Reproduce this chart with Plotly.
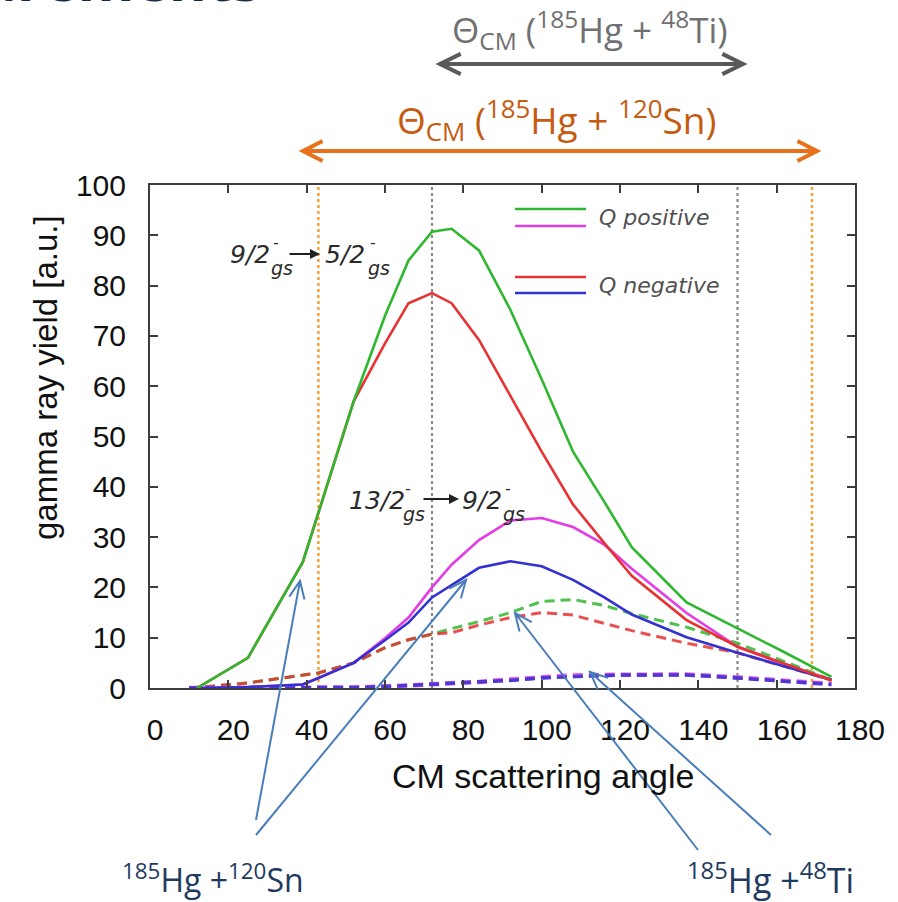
import math
import plotly.graph_objects as go

# CM scattering angle grid (degrees)
angle = [10, 12, 25, 39, 43, 52, 60, 66, 72, 77, 84, 92, 100, 108, 116, 123, 137, 150, 161, 174]

# 185Hg + 120Sn, solid lines
sn_pos_52 = [None, 0, 6, 25, 35, 57, 74, 85, 90.7, 91.3, 87, 75.2, 61.4, 47, 37, 28, 17, 11.9, 7.5, 2.2]
sn_neg_52 = [None, 0, 6, 25, 35, 57, 68.5, 76.5, 78.5, 76.5, 69.2, 58, 47, 36.5, 28.8, 22.3, 13.5, 8.2, 5.1, 1.5]
sn_pos_92 = [0, 0, 0.2, 0.7, 2, 5, 9.9, 14, 20, 24.5, 29.4, 33.3, 33.8, 32, 28.5, 23.7, 14.9, 8.2, 5, 1.6]
sn_neg_92 = [0, 0, 0.2, 0.7, 2, 5, 9.5, 13, 18, 20.5, 23.9, 25.2, 24.2, 21.5, 18, 14.6, 10.1, 7, 4.5, 1.6]

# 185Hg + 48Ti, dashed lines
ti_pos_52 = [0, 0.1, 1, 2.5, 3, 5, 8, 9.6, 10.7, 11.8, 13.2, 15, 17.2, 17.6, 16.4, 14.8, 12.1, 8.9, 5.6, 1.6]
ti_neg_52 = [0, 0.1, 1, 2.5, 3, 5, 8, 9.6, 10.7, 11, 12.5, 14, 15, 14.5, 12.8, 11.4, 8.9, 7, 4.5, 1.6]
ti_pos_92 = [0, 0, 0, 0, 0.05, 0.1, 0.3, 0.5, 0.8, 1, 1.2, 1.7, 2.2, 2.5, 2.6, 2.7, 2.7, 2.1, 1.5, 0.8]
ti_neg_92 = [0, 0, 0, 0, 0.05, 0.1, 0.3, 0.5, 0.7, 0.9, 1.1, 1.5, 2.0, 2.3, 2.5, 2.6, 2.6, 2.0, 1.4, 0.7]

# angular coverage limits
sn_limits = [43, 169]
ti_limits = [72, 150]

x_ticks = [0, 20, 40, 60, 80, 100, 120, 140, 160, 180]
y_ticks = [0, 10, 20, 30, 40, 50, 60, 70, 80, 90, 100]

GREEN = "#2fb82f"
RED = "#e83232"
MAGENTA = "#e43ce4"
BLUE = "#3232d2"
ORANGE_DOT = "#f0a436"
GRAY_DOT = "#8a8a8a"
POINTER = "#4a7ebb"
NAVY = "#1f3a5f"

W, H = 898, 902
ML, MR, MT, MB = 150, 43, 185, 214
PW, PH = W - ML - MR, H - MT - MB


def px(x):
    return (x - ML) / PW


def py(y):
    return (H - MB - y) / PH


fig = go.Figure()

dashed = [
    (ti_pos_52, GREEN, 3),
    (ti_neg_52, RED, 3),
    (ti_pos_92, MAGENTA, 4.5),
    (ti_neg_92, BLUE, 3.5),
]
for ys, col, w in dashed:
    fig.add_trace(go.Scatter(x=angle, y=ys, mode="lines",
                             line=dict(color=col, width=w, dash="10px,6px"),
                             opacity=0.85, showlegend=False, hoverinfo="skip"))

solid = [
    (sn_pos_92, MAGENTA),
    (sn_neg_92, BLUE),
    (sn_neg_52, RED),
    (sn_pos_52, GREEN),
]
for ys, col in solid:
    fig.add_trace(go.Scatter(x=angle, y=ys, mode="lines",
                             line=dict(color=col, width=2.6),
                             showlegend=False, hoverinfo="skip"))

shapes = []
for xv in sn_limits:
    shapes.append(dict(type="line", xref="x", yref="y", x0=xv, x1=xv, y0=0, y1=100,
                       line=dict(color=ORANGE_DOT, width=2.5, dash="dot"), layer="below"))
for xv in ti_limits:
    shapes.append(dict(type="line", xref="x", yref="y", x0=xv, x1=xv, y0=0, y1=100,
                       line=dict(color=GRAY_DOT, width=2.2, dash="dot"), layer="below"))


def arrow(x0, y0, x1, y1, color, width, head=18, ang=28, both=False):
    """Line from (x0,y0) to (x1,y1) in page pixels with open V head(s)."""
    out = [dict(type="line", xref="paper", yref="paper",
                x0=px(x0), y0=py(y0), x1=px(x1), y1=py(y1),
                line=dict(color=color, width=width))]
    ends = [(x0, y0, x1, y1)]
    if both:
        ends.append((x1, y1, x0, y0))
    for ax, ay, tx, ty in ends:
        d = math.hypot(tx - ax, ty - ay)
        ux, uy = (ax - tx) / d, (ay - ty) / d
        pts = []
        for s in (1, -1):
            a = math.radians(ang * s)
            vx = ux * math.cos(a) - uy * math.sin(a)
            vy = ux * math.sin(a) + uy * math.cos(a)
            pts.append((tx + vx * head, ty + vy * head))
        path = "M {:.5f},{:.5f} L {:.5f},{:.5f} L {:.5f},{:.5f}".format(
            px(pts[0][0]), py(pts[0][1]), px(tx), py(ty), px(pts[1][0]), py(pts[1][1]))
        out.append(dict(type="path", xref="paper", yref="paper", path=path,
                        line=dict(color=color, width=width)))
    return out


# angular range arrows above the frame
shapes += arrow(440, 64, 743, 64, "#5a5a5a", 4, head=23, ang=26, both=True)
shapes += arrow(303, 151, 817, 151, "#e8701a", 4, head=22, ang=27, both=True)

# pointers from the reaction labels to the curves
shapes += arrow(256, 820, 300, 581, POINTER, 2, head=19, ang=24)
shapes += arrow(256, 835, 466, 580, POINTER, 2, head=19, ang=24)
shapes += arrow(698, 850, 515, 613, POINTER, 2, head=19, ang=24)
shapes += arrow(771, 835, 590, 672, POINTER, 2, head=19, ang=24)

# in-frame key
key = [(209, GREEN), (226, MAGENTA), (277, RED), (293, BLUE)]
for yk, col in key:
    shapes.append(dict(type="line", xref="paper", yref="paper",
                       x0=px(515), x1=px(586), y0=py(yk), y1=py(yk),
                       line=dict(color=col, width=2.6)))

NARROW = "Liberation Sans Narrow, Open Sans, sans-serif"
ITAL = "DejaVu Sans, sans-serif"
HELV = "Liberation Sans, Arial, sans-serif"


def note(x, y, text, size, color, family, xanchor="center", yanchor="middle",
         style="normal", angle=0, weight="normal"):
    return dict(x=px(x), y=py(y), xref="paper", yref="paper", text=text,
                showarrow=False, xanchor=xanchor, yanchor=yanchor, textangle=angle,
                font=dict(size=size, color=color, family=family, style=style,
                          weight=weight))


annotations = [
    note(263, 20, "Measurements", 58, "#132a4a", "Open Sans, sans-serif",
         xanchor="right", yanchor="bottom", weight="bold"),
    note(590, 29, "Θ<sub>CM</sub> (<sup>185</sup>Hg + <sup>48</sup>Ti)", 35,
         "#707070", NARROW),
    note(556, 119, "Θ<sub>CM</sub> (<sup>185</sup>Hg + <sup>120</sup>Sn)", 37,
         "#c55a11", NARROW),
    note(597, 217, "Q positive", 22, "#505050", ITAL, xanchor="left", style="italic"),
    note(597, 285, "Q negative", 22, "#505050", ITAL, xanchor="left", style="italic"),
    note(543, 776, "CM scattering angle", 34, "#111111", HELV),
    note(45, 378, "gamma ray yield [a.u.]", 33, "#111111", HELV, angle=-90),
    note(213, 878, "<sup>185</sup>Hg +<sup>120</sup>Sn", 32, NAVY, NARROW),
    note(770, 878, "<sup>185</sup>Hg +<sup>48</sup>Ti", 34, NAVY, NARROW),
]

# transition labels: (left x of spin, centre y, spin text, x of stacked sign/subscript)
transitions = [
    (228, 254, "9/2", 268),
    (323, 254, "5/2", 365),
    (347, 500, "13/2", 400),
    (460, 500, "9/2", 500),
]
for xl, yc, spin, xs in transitions:
    annotations.append(note(xl, yc, spin, 25, "#2a2a2a", ITAL, xanchor="left",
                            style="italic"))
    annotations.append(note(xs + 1, yc + 14, "gs", 19, "#2a2a2a", ITAL, xanchor="left",
                            style="italic"))
    annotations.append(note(xs + 3, yc - 12, "-", 16, "#2a2a2a", ITAL, xanchor="left"))

# small transition arrows inside the labels
for (xa, xt, yy) in [(288, 320, 254), (422, 459, 499)]:
    annotations.append(dict(x=px(xt), y=py(yy), xref="paper", yref="paper", text="",
                            showarrow=True, ax=xa - xt, ay=0, arrowhead=2, arrowsize=1,
                            arrowwidth=2, arrowcolor="#222222", standoff=0))

axis_common = dict(
    showgrid=False, zeroline=False, showline=True, linecolor="#3c3c3c", linewidth=2,
    mirror="ticks", ticks="inside", ticklen=8, tickwidth=1.5, tickcolor="#3c3c3c",
    tickfont=dict(family=HELV, size=30, color="#111111"),
)

fig.update_layout(
    width=W, height=H,
    margin=dict(l=ML, r=MR, t=MT, b=MB, pad=0),
    paper_bgcolor="white", plot_bgcolor="white",
    xaxis=dict(range=[0, 180], tickvals=x_ticks, ticklabelstandoff=14,
               ticklabelshift=5, **axis_common),
    yaxis=dict(range=[0, 100], tickvals=y_ticks, ticklabelstandoff=16, **axis_common),
    shapes=shapes,
    annotations=annotations,
    showlegend=False,
)

fig.write_html("out.html", config={"displayModeBar": False})
